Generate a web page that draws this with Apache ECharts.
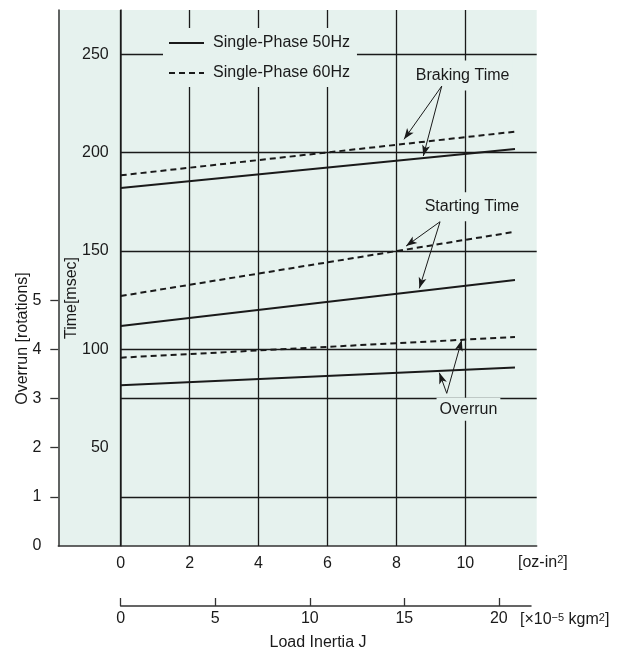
<!DOCTYPE html>
<html>
<head>
<meta charset="utf-8">
<script src="https://cdn.jsdelivr.net/npm/echarts@6/dist/echarts.min.js"></script>
<style>
  html, body { margin: 0; padding: 0; background: #fff; }
  #chart { width: 625px; height: 654px; }
</style>
</head>
<body>
<div id="chart"></div>
<script>
  // load inertia [oz-in2] where the curves start / end
  var inertia = [0, 11.44];
  // braking and starting time [msec]
  var braking50 = [182.0, 201.9];
  var braking60 = [188.5, 210.7];
  var starting50 = [111.9, 135.2];
  var starting60 = [127.1, 159.8];
  // overrun [rotations]
  var overrun50 = [3.27, 3.63];
  var overrun60 = [3.83, 4.25];

  // tick labels
  var ozTicks = [0, 2, 4, 6, 8, 10];
  var kgTicks = [0, 5, 10, 15, 20];
  var timeTicks = [50, 100, 150, 200, 250];
  var rotTicks = [0, 1, 2, 3, 4, 5];
  var timeGrid = [100, 150, 200, 250];
  var rotGrid = [1, 3];

  var FONT = "'Liberation Sans', Arial, sans-serif";
  var FS = 16;
  var INK = '#1a1a1a';
  var BG = '#e6f2ee';
  var X_MIN = -1.81, X_MAX = 12.07;
  var T_MAX = 272.6;

  function pts(ys) {
    return inertia.map(function (x, i) { return [x, ys[i]]; });
  }
  function curve(name, ys, dashed, yIdx) {
    return {
      name: name,
      type: 'line',
      yAxisIndex: yIdx,
      data: pts(ys),
      symbol: 'none',
      silent: true,
      z: 3,
      lineStyle: { color: INK, width: 2, type: dashed ? [6, 4] : 'solid' },
      itemStyle: { color: INK }
    };
  }
  function arrow(from, to) {
    return [
      { coord: from, symbol: 'none' },
      { coord: to, symbol: 'arrow', symbolSize: [6, 11] }
    ];
  }
  function note(name, coord, pad) {
    return { name: name, coord: coord, label: { padding: pad } };
  }

  var supStyle = { fontFamily: FONT, fontSize: 11, verticalAlign: 'top', lineHeight: 11 };

  var chart = echarts.init(document.getElementById('chart'));
  chart.setOption({
    animation: false,
    textStyle: { fontFamily: FONT, color: INK },
    grid: [
      { left: 58.3, right: 88.3, top: 10, bottom: 108.1, show: true, backgroundColor: BG, borderWidth: 0 },
      { left: 120.7, right: 94, top: 596, height: 10 }
    ],
    legend: {
      data: ['Single-Phase 50Hz', 'Single-Phase 60Hz'],
      orient: 'vertical',
      left: 163,
      top: 28,
      z: 10,
      padding: [7, 7, 6, 5],
      backgroundColor: BG,
      itemWidth: 35,
      itemHeight: 14,
      itemGap: 14,
      selectedMode: false,
      itemStyle: { opacity: 0, borderWidth: 0 },
      textStyle: { fontFamily: FONT, fontSize: FS, lineHeight: 16, color: INK, padding: [0, 0, 0, 4] }
    },
    xAxis: [
      {
        type: 'value',
        gridIndex: 0,
        min: X_MIN,
        max: X_MAX,
        name: '[oz-in{sup|2}]',
        nameLocation: 'end',
        nameGap: -18.7,
        nameTextStyle: {
          fontFamily: FONT, fontSize: FS, color: INK, align: 'left',
          verticalAlign: 'top', lineHeight: 16, padding: [9, 0, 0, 0],
          rich: { sup: supStyle }
        },
        axisLine: { show: true, onZero: false, lineStyle: { color: '#333', width: 1.5 } },
        axisTick: { show: false },
        splitLine: { show: false },
        axisLabel: { customValues: ozTicks, margin: 10, fontSize: FS, color: INK, fontFamily: FONT }
      },
      {
        type: 'value',
        gridIndex: 1,
        min: 0,
        max: 21.7,
        position: 'bottom',
        name: '[\u00d710{sup|\u22125} kgm{sup|2}]',
        nameLocation: 'end',
        nameGap: -11,
        nameTextStyle: {
          fontFamily: FONT, fontSize: FS, color: INK, align: 'left',
          verticalAlign: 'top', lineHeight: 16, padding: [6, 0, 0, 0],
          rich: { sup: supStyle }
        },
        axisLine: { show: true, onZero: false, lineStyle: { color: '#333', width: 1.5 } },
        axisTick: { show: true, inside: true, length: 8, customValues: kgTicks, lineStyle: { color: '#333', width: 1.3 } },
        splitLine: { show: false },
        axisLabel: { customValues: kgTicks, margin: 5, fontSize: FS, color: INK, fontFamily: FONT }
      }
    ],
    yAxis: [
      {
        type: 'value',
        gridIndex: 0,
        min: 0,
        max: T_MAX,
        position: 'left',
        offset: -62.4,
        axisLine: { show: true, onZero: false, lineStyle: { color: '#333', width: 1.5 } },
        axisTick: { show: false },
        splitLine: { show: false },
        axisLabel: { customValues: timeTicks, margin: 12, fontSize: FS, color: INK, fontFamily: FONT }
      },
      {
        type: 'value',
        gridIndex: 0,
        min: 0,
        max: T_MAX / 25,
        position: 'left',
        axisLine: { show: true, onZero: false, lineStyle: { color: '#333', width: 1.5 } },
        axisTick: { show: true, length: 8, customValues: rotTicks.slice(1), lineStyle: { color: '#333', width: 1.3 } },
        splitLine: { show: false },
        axisLabel: { customValues: rotTicks, margin: 17, fontSize: FS, color: INK, fontFamily: FONT }
      },
      {
        type: 'value',
        gridIndex: 1,
        min: 0,
        max: 1,
        show: false
      }
    ],
    graphic: [
      {
        type: 'text', x: 22.5, y: 338.5, rotation: Math.PI / 2, silent: true,
        style: { text: 'Overrun [rotations]', fontFamily: FONT, fontSize: FS, fill: INK, align: 'center', verticalAlign: 'middle' }
      },
      {
        type: 'text', x: 71.5, y: 298, rotation: Math.PI / 2, silent: true,
        style: { text: 'Time[msec]', fontFamily: FONT, fontSize: FS, fill: INK, align: 'center', verticalAlign: 'middle' }
      },
      {
        type: 'text', x: 318, y: 643, silent: true,
        style: { text: 'Load Inertia J', fontFamily: FONT, fontSize: FS, fill: INK, align: 'center', verticalAlign: 'middle' }
      }
    ],
    series: [
      // grid lines
      {
        name: 'gridTime',
        type: 'line',
        yAxisIndex: 0,
        data: [],
        z: 1,
        markLine: {
          silent: true,
          z: 1,
          symbol: 'none',
          label: { show: false },
          lineStyle: { color: INK, width: 1.3, type: 'solid' },
          data: timeGrid.map(function (v) {
            return [{ coord: [0, v] }, { coord: [X_MAX, v] }];
          }).concat(ozTicks.map(function (v) { return { xAxis: v }; }))
        }
      },
      {
        name: 'gridRot',
        type: 'line',
        yAxisIndex: 1,
        data: [],
        z: 1,
        markLine: {
          silent: true,
          z: 1,
          symbol: 'none',
          label: { show: false },
          lineStyle: { color: INK, width: 1.3, type: 'solid' },
          data: rotGrid.map(function (v) {
            return [{ coord: [0, v] }, { coord: [X_MAX, v] }];
          })
        }
      },
      curve('Single-Phase 50Hz', braking50, false, 0),
      curve('Single-Phase 60Hz', braking60, true, 0),
      curve('Single-Phase 50Hz', starting50, false, 0),
      curve('Single-Phase 60Hz', starting60, true, 0),
      curve('Single-Phase 50Hz', overrun50, false, 1),
      curve('Single-Phase 60Hz', overrun60, true, 1),
      // annotations
      {
        name: 'notes',
        type: 'line',
        yAxisIndex: 0,
        data: [],
        z: 5,
        markLine: {
          silent: true,
          z: 6,
          label: { show: false },
          lineStyle: { color: INK, width: 1, type: 'solid' },
          data: [
            arrow([9.315, 233.9], [8.22, 206.8]),
            arrow([9.315, 233.9], [8.78, 198.3]),
            arrow([9.266, 164.9], [8.28, 152.5]),
            arrow([9.266, 164.9], [8.665, 131.0]),
            arrow([9.46, 77.6], [9.895, 104.7]),
            arrow([9.46, 77.6], [9.245, 88.1])
          ]
        },
        markPoint: {
          silent: true,
          z: 5,
          symbol: 'rect',
          symbolSize: 1,
          itemStyle: { color: 'rgba(0,0,0,0)' },
          label: {
            show: true,
            position: 'inside',
            formatter: '{b}',
            fontFamily: FONT,
            fontSize: FS,
            color: INK,
            backgroundColor: BG
          },
          data: [
            note('Braking Time', [9.92, 239.3], [10, 3, 4, 3]),
            note('Starting Time', [10.19, 172.5], [6, 3, 7, 3]),
            note('Overrun', [10.09, 69.5], [1, 3, 6, 3])
          ]
        }
      }
    ]
  });
</script>
</body>
</html>
